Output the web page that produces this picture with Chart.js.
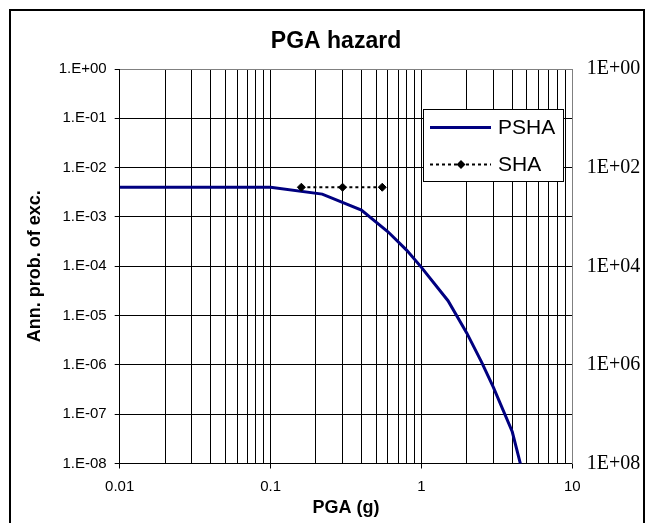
<!DOCTYPE html>
<html>
<head>
<meta charset="utf-8">
<script src="https://cdn.jsdelivr.net/npm/chart.js@4/dist/chart.umd.min.js"></script>
<style>
html,body{margin:0;padding:0;background:#fff;}
canvas{display:block;}
</style>
</head>
<body>
<canvas id="c" width="651" height="523"></canvas>
<script>
// ---- data ----
const pgaPSHA  = [0.01, 0.1, 0.22, 0.4, 0.6, 0.8, 1, 1.5, 2, 2.5, 3, 4, 5];
const probPSHA = [4.0e-3, 4.0e-3, 2.9e-3, 1.38e-3, 5.0e-4, 2.1e-4, 9.5e-5, 2.0e-5, 4.4e-6, 1.15e-6, 3.5e-7, 4.4e-8, 3e-9];
const pgaSHA   = [0.16, 0.3, 0.55];
const probSHA  = [4.0e-3, 4.0e-3, 4.0e-3];

// ---- axis ticks ----
const xGridTicks = [0.01,0.02,0.03,0.04,0.05,0.06,0.07,0.08,0.09,
                    0.1,0.2,0.3,0.4,0.5,0.6,0.7,0.8,0.9,
                    1,2,3,4,5,6,7,8,9,10];
const xMajorTicks  = [0.01, 0.1, 1, 10];
const xMajorLabels = ['0.01', '0.1', '1', '10'];
const yTicks      = [1, 1e-1, 1e-2, 1e-3, 1e-4, 1e-5, 1e-6, 1e-7, 1e-8];
const yTickLabels = ['1.E+00','1.E-01','1.E-02','1.E-03','1.E-04','1.E-05','1.E-06','1.E-07','1.E-08'];
const y2Ticks      = [1, 1e2, 1e4, 1e6, 1e8];
const y2TickLabels = ['1E+00','1E+02','1E+04','1E+06','1E+08'];

const SANS = "'Liberation Sans', Arial, sans-serif";
const SERIF = "'Liberation Serif', 'Times New Roman', serif";

function sameLog(a, b) { return Math.abs(Math.log10(a) - Math.log10(b)) < 1e-6; }
function lookup(v, vals, labels) {
  for (let i = 0; i < vals.length; i++) if (sameLog(v, vals[i])) return labels[i];
  return '';
}

const framePlugin = {
  id: 'frame',
  beforeDraw(chart) {
    const ctx = chart.ctx;
    ctx.save();
    ctx.fillStyle = '#fff';
    ctx.fillRect(0, 0, chart.width, chart.height);
    ctx.strokeStyle = '#000';
    ctx.lineWidth = 2;
    ctx.beginPath();
    ctx.moveTo(10, chart.height + 2);
    ctx.lineTo(10, 10);
    ctx.lineTo(644, 10);
    ctx.lineTo(644, chart.height + 2);
    ctx.stroke();
    ctx.restore();
  }
};

const boxLegendPlugin = {
  id: 'boxLegend',
  afterDatasetsDraw(chart) {
    const ctx = chart.ctx;
    const ds = chart.data.datasets;
    const bx = 423, by = 109, bw = 140, bh = 72;
    ctx.save();
    ctx.fillStyle = '#fff';
    ctx.fillRect(bx, by, bw, bh);
    ctx.strokeStyle = '#000';
    ctx.lineWidth = 1;
    ctx.strokeRect(bx + 0.5, by + 0.5, bw, bh);
    const rows = [127.5, 164.5];
    ds.forEach((d, i) => {
      const y = rows[i];
      ctx.save();
      ctx.strokeStyle = d.borderColor;
      ctx.lineWidth = d.borderWidth;
      ctx.setLineDash(d.borderDash || []);
      ctx.beginPath();
      ctx.moveTo(430, y);
      ctx.lineTo(491, y);
      ctx.stroke();
      ctx.restore();
      if (d.pointRadius > 0) {
        const r = d.pointRadius + 0.5;
        const cx = 461;
        ctx.fillStyle = d.pointBackgroundColor;
        ctx.beginPath();
        ctx.moveTo(cx, y - r); ctx.lineTo(cx + r, y); ctx.lineTo(cx, y + r); ctx.lineTo(cx - r, y);
        ctx.closePath();
        ctx.fill();
      }
      ctx.fillStyle = '#000';
      ctx.font = "21px " + SANS;
      ctx.textAlign = 'left';
      ctx.textBaseline = 'middle';
      ctx.fillText(d.label, 498, y + 1);
    });
    ctx.restore();
  }
};

const chart = new Chart(document.getElementById('c'), {
  type: 'line',
  data: {
    datasets: [
      {
        label: 'PSHA',
        data: pgaPSHA.map((x, i) => ({ x: x, y: probPSHA[i] })),
        borderColor: '#000080',
        backgroundColor: '#000080',
        borderWidth: 3,
        pointRadius: 0,
        tension: 0,
        order: 1,
        yAxisID: 'y'
      },
      {
        label: 'SHA',
        data: pgaSHA.map((x, i) => ({ x: x, y: probSHA[i] })),
        borderColor: '#000',
        backgroundColor: '#000',
        borderWidth: 2,
        borderDash: [3, 3],
        pointStyle: 'rectRot',
        pointRadius: 4,
        pointBorderWidth: 1,
        pointBackgroundColor: '#000',
        pointBorderColor: '#000',
        tension: 0,
        order: 0,
        yAxisID: 'y'
      }
    ]
  },
  options: {
    responsive: false,
    animation: false,
    devicePixelRatio: 1,
    layout: { padding: { left: 21, right: 0, top: 0, bottom: 0 } },
    plugins: {
      legend: { display: false },
      tooltip: { enabled: false },
      title: {
        display: true,
        text: 'PGA hazard',
        color: '#000',
        font: { family: SANS, size: 23, weight: 'bold' },
        padding: { top: 28.2, bottom: 13.2 }
      }
    },
    scales: {
      x: {
        type: 'logarithmic',
        position: 'bottom',
        min: 0.01,
        max: 10,
        afterBuildTicks: s => { s.ticks = xGridTicks.map(v => ({ value: v })); },
        afterFit: s => { s.height = 59.5; },
        ticks: {
          autoSkip: false,
          maxRotation: 0,
          minRotation: 0,
          padding: 9.5,
          color: '#000',
          font: { family: SANS, size: 15 },
          callback: v => lookup(v, xMajorTicks, xMajorLabels)
        },
        grid: {
          color: c => (c.tick && sameLog(c.tick.value, 10)) ? '#808080' : '#000',
          lineWidth: 1,
          tickLength: 5,
          tickColor: c => (c.tick && lookup(c.tick.value, xMajorTicks, xMajorLabels) !== '') ? '#000' : 'rgba(0,0,0,0)'
        },
        border: { display: true, color: '#000', width: 1 },
        title: {
          display: true,
          text: 'PGA (g)',
          color: '#000',
          font: { family: SANS, size: 18, weight: 'bold' },
          padding: { top: 0, bottom: 4 }
        }
      },
      y: {
        type: 'logarithmic',
        position: 'left',
        min: 1e-8,
        max: 1,
        afterBuildTicks: s => { s.ticks = yTicks.map(v => ({ value: v })); },
        afterFit: s => { s.width = 98.7; },
        ticks: {
          autoSkip: false,
          padding: 8,
          color: '#000',
          font: { family: SANS, size: 15 },
          callback: v => lookup(v, yTicks, yTickLabels)
        },
        grid: {
          color: c => (c.tick && sameLog(c.tick.value, 1)) ? '#808080' : '#000',
          lineWidth: 1,
          tickLength: 5,
          tickColor: '#000'
        },
        border: { display: true, color: '#000', width: 1 },
        title: {
          display: true,
          text: 'Ann. prob. of exc.',
          color: '#000',
          font: { family: SANS, size: 18, weight: 'bold' },
          padding: { top: 3, bottom: 0 }
        }
      },
      y2: {
        type: 'logarithmic',
        position: 'right',
        reverse: true,
        min: 1,
        max: 1e8,
        afterBuildTicks: s => { s.ticks = y2Ticks.map(v => ({ value: v })); },
        afterFit: s => { s.width = 78.7; },
        ticks: {
          autoSkip: false,
          padding: 14.4,
          color: '#000',
          font: { family: SERIF, size: 20 },
          callback: v => lookup(v, y2Ticks, y2TickLabels)
        },
        grid: { display: false, drawTicks: false },
        border: { display: true, color: '#808080', width: 1 }
      }
    }
  },
  plugins: [framePlugin, boxLegendPlugin]
});
</script>
</body>
</html>
